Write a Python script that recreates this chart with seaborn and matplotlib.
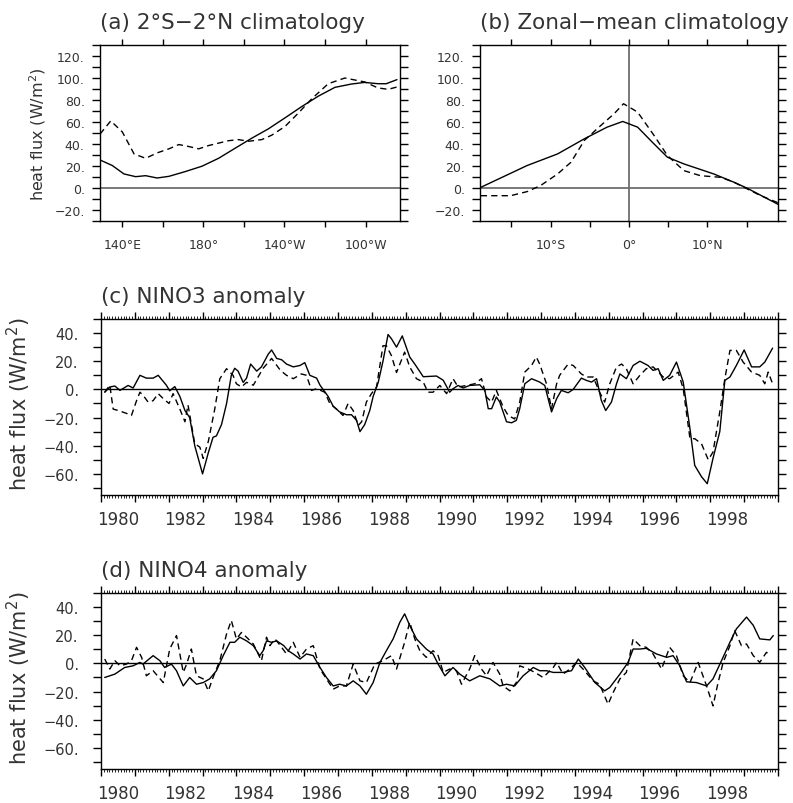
import numpy as np
import pandas as pd
import matplotlib
matplotlib.use("Agg")
import matplotlib.pyplot as plt
import matplotlib.ticker as mticker
import seaborn as sns

# ---------------- data ----------------
# (a) 2S-2N climatology, longitude in degrees east
a_lon_solid = [129.0, 135.1, 140.8, 146.6, 151.5, 157.2, 163.0, 171.0, 179.3, 187.5, 195.7,
               203.9, 212.1, 220.3, 228.5, 236.7, 244.9, 253.0, 259.6, 266.1, 270.2, 275.5]
a_val_solid = [25.5, 20.4, 12.8, 10.3, 11.2, 9.1, 10.6, 14.9, 19.8, 27.0, 36.2,
               45.3, 53.8, 63.8, 74.0, 83.5, 91.5, 94.5, 96.0, 94.8, 94.8, 98.5]
a_lon_dash = [129.0, 134.3, 140.0, 145.8, 151.5, 157.3, 163.0, 167.9, 172.8, 177.7, 182.6,
              192.4, 197.3, 202.3, 208.8, 213.7, 220.3, 226.8, 233.4, 241.6, 249.8, 259.6,
              266.1, 271.1, 275.5]
a_val_dash = [49.0, 61.0, 51.0, 31.0, 27.0, 32.0, 35.6, 39.5, 37.7, 35.6, 38.6,
              43.0, 44.0, 42.5, 44.0, 48.0, 56.0, 68.0, 81.0, 94.8, 100.0, 96.4,
              91.0, 89.7, 91.8]

# (b) zonal-mean climatology, latitude
b_lat_solid = [-18.9, -13.0, -9.1, -5.7, -2.8, -0.8, 1.1, 3.2, 4.9, 7.0, 10.8, 13.4, 15.1, 19.1]
b_val_solid = [0.6, 20.4, 31.0, 44.7, 55.3, 60.5, 55.3, 40.0, 28.0, 21.9, 12.8, 5.2, -0.3, -15.2]
b_lat_dash = [-18.9, -15.1, -13.0, -11.3, -9.1, -7.4, -5.7, -3.6, -1.9, -0.7, 1.1, 3.2, 4.9,
              7.0, 9.1, 11.7, 13.4, 15.1, 16.8, 19.1]
b_val_dash = [-7.0, -7.0, -3.3, 2.1, 12.8, 23.4, 43.2, 56.8, 67.5, 76.6, 69.0, 47.7, 29.5,
              15.8, 11.2, 9.7, 5.2, -0.9, -7.0, -13.7]

# (c) NINO3 anomaly
c_t_solid = [1980.11, 1980.26, 1980.41, 1980.56, 1980.80, 1980.95, 1981.15, 1981.34, 1981.54, 1981.69,
             1981.93, 1982.03, 1982.18, 1982.33, 1982.48, 1982.62, 1982.77, 1983.00, 1983.17, 1983.31,
             1983.41, 1983.56, 1983.71, 1983.85, 1983.95, 1984.05, 1984.20, 1984.30, 1984.42, 1984.60,
             1984.74, 1984.94, 1985.04, 1985.19, 1985.34, 1985.48, 1985.68, 1985.88, 1986.02, 1986.17,
             1986.37, 1986.47, 1986.71, 1986.86, 1987.05, 1987.25, 1987.40, 1987.55, 1987.65, 1987.79,
             1987.94, 1988.04, 1988.19, 1988.33, 1988.48, 1988.58, 1988.73, 1988.90, 1989.12, 1989.27,
             1989.52, 1989.91, 1990.11, 1990.30, 1990.40, 1990.55, 1990.70, 1990.89, 1991.19, 1991.34,
             1991.44, 1991.54, 1991.68, 1991.78, 1991.98, 1992.13, 1992.27, 1992.37, 1992.52, 1992.72,
             1992.96, 1993.11, 1993.31, 1993.46, 1993.60, 1993.80, 1993.95, 1994.19, 1994.34, 1994.49,
             1994.64, 1994.78, 1994.91, 1995.08, 1995.23, 1995.33, 1995.52, 1995.72, 1995.92, 1996.16,
             1996.31, 1996.46, 1996.61, 1996.80, 1997.00, 1997.20, 1997.40, 1997.54, 1997.74, 1997.91,
             1998.08, 1998.28, 1998.43, 1998.58, 1998.77, 1999.00, 1999.22, 1999.46, 1999.61, 1999.84]
c_v_solid = [-2.0, 1.7, 2.4, -0.7, 2.8, 1.0, 10.0, 8.0, 8.0, 10.0,
             3.0, -1.0, 2.0, -5.0, -15.0, -20.0, -40.0, -60.0, -45.0, -34.0,
             -33.0, -25.0, -10.0, 10.0, 15.0, 13.0, 5.0, 8.0, 18.0, 13.0,
             16.0, 25.0, 28.0, 22.0, 21.0, 18.0, 16.0, 17.0, 19.0, 10.0,
             8.0, 3.0, -5.0, -12.0, -16.0, -18.0, -18.0, -22.0, -30.0, -25.0,
             -15.0, -5.0, 5.0, 20.0, 39.0, 36.0, 30.0, 38.0, 23.0, 18.0,
             9.0, 9.5, 6.5, -2.0, 0.5, 2.8, 1.0, 2.8, 3.3, -0.7,
             -13.7, -13.7, -5.4, -9.0, -23.0, -23.7, -22.0, -13.7, 4.0, 7.6,
             5.2, 2.8, -16.0, -6.6, -0.7, -2.4, 0.0, 8.0, 6.4, 5.2,
             7.6, -7.8, -15.0, -9.0, 4.0, 11.0, 7.6, 17.0, 20.0, 17.0,
             13.5, 14.7, 6.4, 10.0, 19.4, 5.2, -28.0, -54.0, -62.0, -67.0,
             -49.0, -30.0, 6.4, 8.8, 17.0, 28.0, 16.0, 16.0, 19.4, 29.3]
c_t_dash = [1980.11, 1980.26, 1980.36, 1980.51, 1980.75, 1980.90, 1981.05, 1981.15, 1981.24, 1981.39,
            1981.54, 1981.69, 1981.84, 1982.01, 1982.13, 1982.33, 1982.48, 1982.57, 1982.77, 1982.92,
            1983.02, 1983.17, 1983.36, 1983.51, 1983.71, 1983.90, 1984.00, 1984.15, 1984.30, 1984.50,
            1984.79, 1985.04, 1985.30, 1985.48, 1985.68, 1985.92, 1986.07, 1986.22, 1986.37, 1986.61,
            1986.76, 1986.96, 1987.15, 1987.30, 1987.45, 1987.60, 1987.70, 1987.84, 1987.99, 1988.14,
            1988.33, 1988.43, 1988.58, 1988.73, 1988.97, 1989.12, 1989.32, 1989.52, 1989.66, 1989.81,
            1990.01, 1990.21, 1990.40, 1990.55, 1990.80, 1991.04, 1991.24, 1991.39, 1991.54, 1991.68,
            1991.88, 1992.03, 1992.22, 1992.37, 1992.52, 1992.72, 1992.86, 1992.96, 1993.16, 1993.31,
            1993.46, 1993.55, 1993.80, 1993.95, 1994.19, 1994.34, 1994.54, 1994.73, 1994.88, 1995.03,
            1995.23, 1995.38, 1995.52, 1995.72, 1995.92, 1996.11, 1996.31, 1996.46, 1996.61, 1996.80,
            1997.05, 1997.20, 1997.40, 1997.54, 1997.74, 1997.94, 1998.08, 1998.28, 1998.43, 1998.58,
            1998.77, 1998.97, 1999.22, 1999.46, 1999.61, 1999.71, 1999.86]
c_v_dash = [-2.0, 3.0, -14.0, -15.0, -17.0, -18.5, -8.0, -2.0, -4.0, -9.0,
            -8.0, -3.0, -6.6, -10.0, -3.0, -14.0, -23.0, -11.0, -38.6, -41.0,
            -49.0, -37.0, -14.0, 7.6, 14.7, 10.0, 4.0, 1.7, 5.0, 3.0,
            15.0, 22.0, 13.5, 10.0, 7.6, 11.0, 10.0, -0.7, 0.5, -2.0,
            -10.0, -14.0, -18.5, -10.0, -15.0, -25.6, -23.0, -9.0, -3.0, 1.7,
            31.0, 31.0, 24.0, 12.0, 26.5, 16.0, 7.6, 5.2, -2.0, -2.0,
            2.8, -3.0, 7.6, 1.7, 2.8, 4.0, 7.6, -5.4, -9.0, -0.7,
            -12.5, -18.5, -21.0, -9.0, 12.3, 17.0, 23.0, 18.0, 4.0, -13.7,
            4.0, 10.0, 18.0, 17.0, 11.0, 8.8, 8.8, -2.0, -9.0, 4.0,
            16.0, 18.0, 14.7, 4.0, 10.0, 14.7, 16.0, 12.3, 8.8, 7.6,
            12.3, 0.5, -35.0, -35.0, -38.6, -50.0, -44.5, -16.0, 7.6, 27.7,
            27.7, 19.4, 12.3, 10.0, 4.0, 12.3, 2.8]

# (d) NINO4 anomaly
d_t_solid = [1980.11, 1980.41, 1980.70, 1980.95, 1981.15, 1981.24, 1981.54, 1981.74, 1981.88, 1982.08,
             1982.23, 1982.43, 1982.62, 1982.82, 1983.02, 1983.21, 1983.41, 1983.61, 1983.81, 1983.95,
             1984.10, 1984.30, 1984.50, 1984.69, 1984.79, 1984.89, 1985.04, 1985.19, 1985.40, 1985.53,
             1985.68, 1985.88, 1986.07, 1986.27, 1986.47, 1986.66, 1986.86, 1987.05, 1987.25, 1987.45,
             1987.65, 1987.84, 1988.04, 1988.24, 1988.43, 1988.63, 1988.83, 1988.97, 1989.12, 1989.32,
             1989.61, 1989.81, 1989.96, 1990.16, 1990.40, 1990.60, 1990.89, 1991.19, 1991.49, 1991.78,
             1991.98, 1992.22, 1992.47, 1992.77, 1992.96, 1993.16, 1993.36, 1993.65, 1993.90, 1994.10,
             1994.29, 1994.59, 1994.88, 1995.03, 1995.33, 1995.57, 1995.72, 1995.92, 1996.11, 1996.41,
             1996.71, 1996.90, 1997.10, 1997.30, 1997.59, 1997.89, 1998.08, 1998.33, 1998.58, 1998.77,
             1999.07, 1999.27, 1999.46, 1999.76, 1999.86]
d_v_solid = [-10.0, -7.6, -2.9, -1.7, 0.7, -0.5, 5.5, 1.9, -2.9, -0.5,
             -5.2, -16.0, -10.0, -14.8, -13.6, -11.0, -5.2, 5.5, 15.0, 15.0,
             18.6, 16.0, 12.6, 5.5, 9.0, 16.0, 15.0, 16.0, 12.6, 9.0,
             6.7, 3.1, 6.7, 5.5, -2.9, -10.0, -16.0, -14.8, -16.0, -12.4,
             -16.0, -21.9, -13.6, 0.7, 9.0, 17.4, 29.3, 35.2, 27.0, 17.4,
             10.2, 6.7, -0.5, -8.8, -2.9, -7.6, -12.4, -8.8, -11.0, -16.0,
             -14.8, -16.0, -8.8, -2.9, -5.2, -5.2, -6.4, -6.4, -5.2, 3.1,
             -2.9, -13.6, -19.5, -17.1, -7.6, 0.7, 10.2, 10.2, 10.7, 6.7,
             4.3, 5.5, -1.7, -13.1, -13.6, -16.0, -11.0, 1.9, 15.0, 24.5,
             32.9, 27.0, 17.4, 16.7, 19.8]
d_t_dash = [1980.11, 1980.26, 1980.41, 1980.56, 1980.75, 1980.90, 1981.05, 1981.20, 1981.34, 1981.54,
            1981.84, 1982.03, 1982.23, 1982.43, 1982.53, 1982.67, 1982.82, 1983.02, 1983.17, 1983.31,
            1983.51, 1983.71, 1983.85, 1984.00, 1984.15, 1984.35, 1984.50, 1984.74, 1984.89, 1984.99,
            1985.14, 1985.30, 1985.48, 1985.68, 1985.88, 1986.07, 1986.27, 1986.47, 1986.66, 1986.86,
            1987.05, 1987.25, 1987.45, 1987.65, 1987.84, 1988.09, 1988.33, 1988.58, 1988.73, 1988.97,
            1989.12, 1989.27, 1989.42, 1989.61, 1989.81, 1989.96, 1990.11, 1990.30, 1990.50, 1990.65,
            1990.89, 1991.04, 1991.24, 1991.39, 1991.58, 1991.78, 1991.88, 1992.08, 1992.27, 1992.37,
            1992.62, 1992.82, 1993.06, 1993.36, 1993.46, 1993.65, 1993.85, 1994.05, 1994.24, 1994.54,
            1994.73, 1994.98, 1995.13, 1995.33, 1995.52, 1995.72, 1995.92, 1996.11, 1996.31, 1996.56,
            1996.80, 1997.00, 1997.20, 1997.40, 1997.64, 1997.89, 1998.08, 1998.23, 1998.38, 1998.58,
            1998.72, 1998.92, 1999.07, 1999.27, 1999.46, 1999.66, 1999.76]
d_v_dash = [3.1, -4.0, 1.9, -1.7, -0.5, 1.9, 11.4, 4.3, -8.8, -5.2,
            -13.6, 10.2, 19.8, -6.4, -0.5, 10.2, -8.8, -11.0, -19.5, -10.0,
            1.9, 21.0, 30.5, 17.4, 22.0, 17.4, 13.8, 1.9, 18.6, 12.6,
            17.4, 12.6, 6.7, 15.0, 4.3, 10.2, 12.6, -4.0, -11.0, -18.3,
            -16.0, -16.0, -0.5, -12.4, -13.6, -0.5, 1.9, 5.5, -4.0, 15.0,
            29.3, 17.4, 9.0, 4.3, 9.0, 5.5, -6.4, -4.0, -5.2, -14.8,
            -4.0, 5.5, -4.0, -8.8, 0.7, -7.6, -16.0, -19.5, -13.6, -1.7,
            -4.0, -6.4, -10.0, -2.9, 0.7, -7.6, -4.0, 0.7, -4.0, -12.4,
            -14.8, -29.0, -20.7, -11.0, -6.4, 17.4, 12.6, 11.4, 6.7, -4.0,
            11.4, 5.5, -8.8, -13.6, 0.7, -16.0, -30.2, -13.6, 0.7, 12.6,
            23.3, 12.6, 13.8, 5.5, 0.7, 7.9, 5.5]

titles = ["(a) 2\u00b0S\u22122\u00b0N climatology", "(b) Zonal\u2212mean climatology",
          "(c) NINO3 anomaly", "(d) NINO4 anomaly"]
ylabel_text = "heat flux (W/m$^2$)"
year_labels = [str(y) for y in range(1980, 2000, 2)]

# ---------------- style ----------------
sns.set_theme(style="white")
plt.rcParams['font.family'] = ['DejaVu Sans']
plt.rcParams['axes.edgecolor'] = 'black'
plt.rcParams['axes.linewidth'] = 1.0
plt.rcParams['mathtext.default'] = 'regular'
TXT = '#333333'

fig = plt.figure(figsize=(7.93, 8.04), dpi=100)
W, H = 793.0, 804.0


def add_ax(left, top, right, bottom):
    return fig.add_axes([left / W, 1 - bottom / H, (right - left) / W, (bottom - top) / H])


def draw_pair(ax, xs, ys, xd, yd):
    df = pd.concat([
        pd.DataFrame({'x': xs, 'y': ys, 'kind': 'solid'}),
        pd.DataFrame({'x': xd, 'y': yd, 'kind': 'dash'}),
    ], ignore_index=True)
    sns.lineplot(data=df, x='x', y='y', style='kind', ax=ax, color='black',
                 dashes={'solid': '', 'dash': (4.5, 3)}, estimator=None, sort=False,
                 linewidth=1.0, legend=False)
    ax.set_xlabel('')
    ax.set_ylabel('')


def yfmt(v, pos):
    s = f"{v:.0f}."
    return s.replace('-', '\u2212')


def common_y(ax, lo, hi, major_lo, major_hi, size, pad):
    ax.set_ylim(lo, hi)
    ax.yaxis.set_major_locator(mticker.FixedLocator(np.arange(major_lo, major_hi + 1, 20)))
    ax.yaxis.set_minor_locator(mticker.MultipleLocator(10))
    ax.yaxis.set_major_formatter(mticker.FuncFormatter(yfmt))
    ax.tick_params(axis='y', which='both', left=True, right=True, direction='out',
                   length=6, width=1.0, color='black', labelsize=size, labelcolor=TXT, pad=pad)


def title(ax, text):
    ax.annotate(text, xy=(0, 1), xycoords='axes fraction', xytext=(0, 17),
                textcoords='offset pixels', ha='left', va='baseline',
                fontsize=15.5, color=TXT)


# ---- (a)
axa = add_ax(100, 46, 400, 222)
draw_pair(axa, a_lon_solid, a_val_solid, a_lon_dash, a_val_dash)
axa.axhline(0, color='#6e6e6e', lw=1.3, zorder=1)
axa.set_xlim(129, 277)
lon_names = {140: '140\u00b0E', 180: '180\u00b0', 220: '140\u00b0W', 260: '100\u00b0W'}
axa.xaxis.set_major_locator(mticker.FixedLocator(np.arange(140, 277, 20)))
axa.xaxis.set_major_formatter(mticker.FuncFormatter(lambda v, p: lon_names.get(int(round(v)), '')))
axa.tick_params(axis='x', which='major', top=True, bottom=True, direction='out', length=4,
                width=1.0, color='black', labelsize=9, labelcolor=TXT, pad=8)
common_y(axa, -30, 130, -20, 120, 9, 5)
title(axa, titles[0])
axa.set_ylabel(ylabel_text, fontsize=11.5, color=TXT)
axa.yaxis.set_label_coords(-0.175, 0.5)

# ---- (b)
axb = add_ax(480, 46, 778, 222)
draw_pair(axb, b_lat_solid, b_val_solid, b_lat_dash, b_val_dash)
axb.axhline(0, color='#6e6e6e', lw=1.3, zorder=1)
axb.axvline(0, color='#6e6e6e', lw=1.3, zorder=1)
axb.set_xlim(-19, 19)
lat_names = {-10: '10\u00b0S', 0: '0\u00b0', 10: '10\u00b0N'}
axb.xaxis.set_major_locator(mticker.FixedLocator(np.arange(-15, 16, 5)))
axb.xaxis.set_major_formatter(mticker.FuncFormatter(lambda v, p: lat_names.get(int(round(v)), '')))
axb.tick_params(axis='x', which='major', top=True, bottom=True, direction='out', length=4,
                width=1.0, color='black', labelsize=9, labelcolor=TXT, pad=8)
common_y(axb, -30, 130, -20, 120, 9, 5)
title(axb, titles[1])


# ---- (c), (d)
def time_axis(ax):
    ax.set_xlim(1980, 2000)
    ax.xaxis.set_major_locator(mticker.MultipleLocator(1))
    ax.xaxis.set_minor_locator(mticker.MultipleLocator(1 / 12))
    ax.xaxis.set_major_formatter(mticker.NullFormatter())
    ax.tick_params(axis='x', which='major', top=True, bottom=True, direction='out',
                   length=5, width=1.0, color='black')
    ax.tick_params(axis='x', which='minor', top=True, bottom=True, direction='out',
                   length=2.5, width=0.6, color='black')
    sec = ax.secondary_xaxis('bottom')
    sec.set_xticks([int(y) + 0.5 for y in year_labels], labels=year_labels)
    sec.tick_params(axis='x', length=0, labelsize=12, labelcolor=TXT, pad=11)
    sec.spines['bottom'].set_visible(False)


for (top, bot, ts, vs, td, vd, ttl) in [
        (320, 496, c_t_solid, c_v_solid, c_t_dash, c_v_dash, titles[2]),
        (594, 770, d_t_solid, d_v_solid, d_t_dash, d_v_dash, titles[3])]:
    ax = add_ax(101, top, 778, bot)
    draw_pair(ax, ts, vs, td, vd)
    ax.axhline(0, color='black', lw=1.0, zorder=1)
    time_axis(ax)
    common_y(ax, -75, 50, -60, 40, 10.5, 10)
    title(ax, ttl)
    ax.set_ylabel(ylabel_text, fontsize=15, color=TXT)
    ax.yaxis.set_label_coords(-0.1, 0.52)

fig.savefig("out.png", dpi=100)
